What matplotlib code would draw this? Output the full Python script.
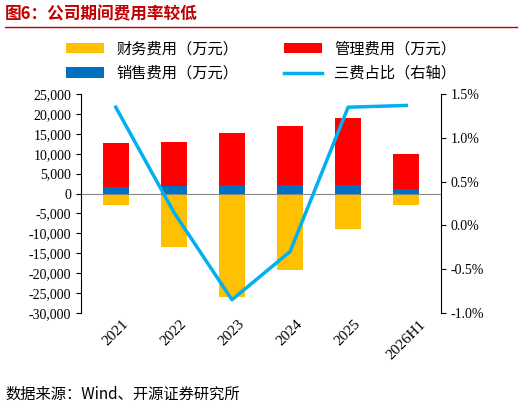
import matplotlib
matplotlib.use("Agg")
import matplotlib.pyplot as plt
from matplotlib.ticker import FuncFormatter

plt.rcParams['font.family'] = ['Noto Sans CJK SC', 'DejaVu Sans']

years = ["2021", "2022", "2023", "2024", "2025", "2026H1"]
finance = [-2800, -13500, -26000, -19300, -9000, -2800]
sales = [1600, 2000, 2200, 2200, 2100, 1200]
management = [11100, 11000, 13100, 14800, 16900, 8700]
ratio = [1.35, 0.15, -0.85, -0.30, 1.35, 1.37]

fig = plt.figure(figsize=(5.22, 4.09), dpi=100)
ax = fig.add_axes([0.155, 0.235, 0.69, 0.535])
x = range(len(years))
w = 0.45
ax.bar(x, finance, w, color="#FFC000", label="财务费用（万元）")
ax.bar(x, management, w, bottom=sales, color="#FF0000", label="管理费用（万元）")
ax.bar(x, sales, w, color="#0070C0", label="销售费用（万元）")
ax.set_ylim(-30000, 25000)
ax.set_yticks(range(-30000, 25001, 5000))
ax.yaxis.set_major_formatter(FuncFormatter(lambda v, p: f"{int(v):,}"))
ax.set_xticks(list(x))
ax.set_xticklabels(years, rotation=45, fontfamily="Liberation Serif", fontsize=11)
for lab in ax.get_yticklabels():
    lab.set_fontfamily("Liberation Serif")
ax.set_xlim(-0.6, 5.6)
for s in ["top", "right", "bottom"]:
    ax.spines[s].set_visible(False)
ax.axhline(0, color="#888888", lw=0.8)
ax.tick_params(axis="x", length=0)

ax2 = ax.twinx()
ax2.plot(list(x), ratio, color="#00B0F0", lw=2.5, label="三费占比（右轴）")
ax2.set_ylim(-1.0, 1.5)
ax2.set_yticks([-1.0, -0.5, 0, 0.5, 1.0, 1.5])
ax2.yaxis.set_major_formatter(FuncFormatter(lambda v, p: f"{v:.1f}%"))
for lab in ax2.get_yticklabels():
    lab.set_fontfamily("Liberation Serif")
for s in ["top", "left", "bottom"]:
    ax2.spines[s].set_visible(False)

h1, l1 = ax.get_legend_handles_labels()
h2, l2 = ax2.get_legend_handles_labels()
# column-wise fill: gives rows 财务/管理 and 销售/三费
handles = [h1[0], h1[2], h1[1], h2[0]]
labels = [l1[0], l1[2], l1[1], l2[0]]
fig.legend(handles, labels, ncol=2, loc="upper center", bbox_to_anchor=(0.5, 0.935),
           frameon=False, fontsize=11, handlelength=2.5, columnspacing=3)

fig.text(0.01, 0.965, "图6：公司期间费用率较低", color="#C00000", fontsize=12, fontweight="bold", va="center")
fig.add_artist(plt.Line2D([0.01, 0.99], [0.935, 0.935], color="#C00000", lw=1))
fig.text(0.01, 0.035, "数据来源：Wind、开源证券研究所", fontsize=11, va="center")
fig.savefig("out.png", dpi=100)
